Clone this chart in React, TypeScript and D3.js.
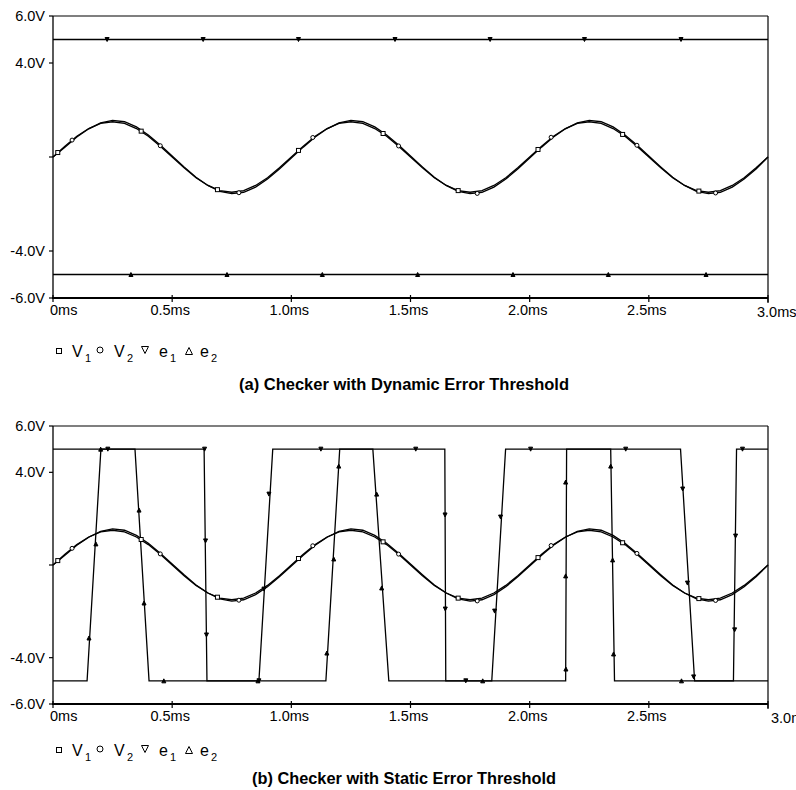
import React from 'react';
import * as d3 from 'd3';

// axis ticks
const X_TICKS = [0, 0.5, 1.0, 1.5, 2.0, 2.5, 3.0];
const X_TICK_LABELS = ['0ms', '0.5ms', '1.0ms', '1.5ms', '2.0ms', '2.5ms', '3.0ms'];
const Y_TICKS = [6, 4, 0, -4, -6];
const Y_TICK_LABELS = ['6.0V', '4.0V', '', '-4.0V', '-6.0V'];

// sine traces, one sample every 0.05 ms from 0 to 3.0 ms
const SAMPLE_STEP = 0.05;
const V1 = [
  0, 0.46, 0.88, 1.21, 1.43, 1.5, 1.43, 1.21, 0.88, 0.46,
  0, -0.46, -0.88, -1.21, -1.43, -1.5, -1.43, -1.21, -0.88, -0.46,
  0, 0.46, 0.88, 1.21, 1.43, 1.5, 1.43, 1.21, 0.88, 0.46,
  0, -0.46, -0.88, -1.21, -1.43, -1.5, -1.43, -1.21, -0.88, -0.46,
  0, 0.46, 0.88, 1.21, 1.43, 1.5, 1.43, 1.21, 0.88, 0.46,
  0, -0.46, -0.88, -1.21, -1.43, -1.5, -1.43, -1.21, -0.88, -0.46,
  0,
];
const V2 = [
  0, 0.42, 0.85, 1.2, 1.45, 1.56, 1.5, 1.28, 0.94, 0.51,
  0.04, -0.42, -0.86, -1.21, -1.46, -1.56, -1.5, -1.28, -0.94, -0.51,
  -0.04, 0.42, 0.85, 1.2, 1.45, 1.56, 1.5, 1.28, 0.94, 0.51,
  0.04, -0.42, -0.86, -1.21, -1.46, -1.56, -1.5, -1.28, -0.94, -0.51,
  -0.04, 0.42, 0.85, 1.2, 1.45, 1.56, 1.5, 1.28, 0.94, 0.51,
  0.04, -0.42, -0.86, -1.21, -1.46, -1.56, -1.5, -1.28, -0.94, -0.51,
  0,
];

// marker positions [time ms, volts]
const V1_MARKERS = [[0.02, 0.19], [0.37, 1.1], [0.69, -1.39], [1.03, 0.28], [1.385, 1.0], [1.7, -1.43], [2.035, 0.32], [2.39, 0.96], [2.71, -1.45]];
const V2_MARKERS = [[0.08, 0.72], [0.45, 0.48], [0.78, -1.52], [1.09, 0.83], [1.45, 0.47], [1.78, -1.55], [2.09, 0.84], [2.45, 0.5], [2.78, -1.53]];

// (a) dynamic threshold: flat error outputs
const E1_DYN = [[0, 5], [3, 5]];
const E2_DYN = [[0, -5], [3, -5]];
const E1_DYN_MARKERS = [[0.227, 5], [0.63, 5], [1.03, 5], [1.435, 5], [1.834, 5], [2.23, 5], [2.635, 5]];
const E2_DYN_MARKERS = [[0.327, -5], [0.73, -5], [1.13, -5], [1.53, -5], [1.93, -5], [2.33, -5], [2.74, -5]];

// (b) static threshold: switching error outputs
const E1_STAT = [[0, 5], [0.634, 5], [0.646, -5], [0.864, -5], [0.922, 5], [1.644, 5], [1.648, -5], [1.841, -5], [1.899, 5], [2.633, 5], [2.692, -5], [2.855, -5], [2.868, 5], [3.0, 5]];
const E2_STAT = [[0, -5], [0.143, -5], [0.201, 5], [0.344, 5], [0.403, -5], [1.145, -5], [1.203, 5], [1.342, 5], [1.409, -5], [2.151, -5], [2.155, 5], [2.34, 5], [2.356, -5], [3.0, -5]];
const E1_STAT_MARKERS = [[0.23, 5], [0.636, 5], [0.64, 1.04], [0.644, -3.02], [0.864, -5], [0.885, -1.04], [0.906, 3.06], [1.124, 5], [1.522, 5], [1.645, 2.16], [1.646, -1.9], [1.732, -5], [1.853, -1.99], [1.878, 2.07], [2.004, 5], [2.403, 5], [2.642, 3.28], [2.662, -0.78], [2.688, -4.83], [2.86, -2.8], [2.864, 1.25], [2.893, 5]];
const E2_STAT_MARKERS = [[0.151, -3.15], [0.18, 0.91], [0.2, 5], [0.361, 2.37], [0.382, -1.64], [0.465, -5], [0.86, -5], [1.149, -3.8], [1.178, 0.26], [1.199, 4.27], [1.358, 3.06], [1.379, -0.99], [1.803, -5], [2.151, 3.58], [2.151, -0.47], [2.152, -4.49], [2.34, 4.27], [2.348, 0.22], [2.352, -3.84], [2.637, -5]];

const FONT = '"Liberation Sans", Arial, Helvetica, sans-serif';
const X0 = 53;
const X1 = 768;

const Marker = ({ kind, x, y, size = 4, legend = false }) => {
  const h = size / 2;
  if (kind === 'square') {
    return <rect x={x - h} y={y - h} width={size} height={size} fill="#fff" stroke="#000" strokeWidth={1} />;
  }
  if (kind === 'circle') {
    return <circle cx={x} cy={y} r={h} fill="#fff" stroke="#000" strokeWidth={1} />;
  }
  const fill = legend ? '#fff' : '#000';
  const pts = kind === 'down'
    ? `${x - h},${y - h} ${x + h},${y - h} ${x},${y + h}`
    : `${x - h},${y + h} ${x + h},${y + h} ${x},${y - h}`;
  return <polygon points={pts} fill={fill} stroke="#000" strokeWidth={1} strokeLinejoin="miter" />;
};

const Panel = ({ top, bottom, e1, e2, e1Markers, e2Markers, lastLabelX, legendY, title, titleY, titleWidth }) => {
  const x = d3.scaleLinear().domain([0, 3]).range([X0, X1]);
  const y = d3.scaleLinear().domain([-6, 6]).range([bottom, top]);

  const sineLine = d3.line().x((d, i) => x(i * SAMPLE_STEP)).y(d => y(d));
  const stepLine = d3.line().x(d => x(d[0])).y(d => y(d[1]));

  return (
    <g>
      {/* frame */}
      <line x1={X0} x2={X1} y1={top} y2={top} stroke="#000" strokeWidth={1.2} />
      <line x1={X1} x2={X1} y1={top} y2={bottom + 5} stroke="#000" strokeWidth={1.2} />
      <line x1={X0} x2={X0} y1={top} y2={bottom} stroke="#000" strokeWidth={1.3} />
      <line x1={X0 - 1} x2={X1} y1={bottom} y2={bottom} stroke="#000" strokeWidth={2} />

      {/* y ticks */}
      {Y_TICKS.map((v, i) => (
        <g key={'y' + i}>
          <line x1={X0 - 4} x2={X0} y1={y(v)} y2={y(v)} stroke="#000" strokeWidth={1.2} />
          <text x={X0 - 8} y={y(v) + 5} textAnchor="end" fontSize={14.5} fontFamily={FONT}>{Y_TICK_LABELS[i]}</text>
        </g>
      ))}

      {/* x ticks */}
      {X_TICKS.map((v, i) => {
        const last = i === X_TICKS.length - 1;
        const first = i === 0;
        const lx = first ? x(v) - 3 : last ? lastLabelX : x(v) - 2;
        return (
          <g key={'x' + i}>
            <line x1={x(v)} x2={x(v)} y1={bottom - 3} y2={bottom + 4} stroke="#000" strokeWidth={1.2} />
            <text x={lx} y={bottom + (last ? 19 : 17)} textAnchor={first || last ? 'start' : 'middle'} fontSize={14.5} fontFamily={FONT}>{X_TICK_LABELS[i]}</text>
          </g>
        );
      })}

      {/* traces */}
      <path d={sineLine(V1)} fill="none" stroke="#000" strokeWidth={1.3} />
      <path d={sineLine(V2)} fill="none" stroke="#000" strokeWidth={1.3} />
      <path d={stepLine(e1)} fill="none" stroke="#000" strokeWidth={1.3} />
      <path d={stepLine(e2)} fill="none" stroke="#000" strokeWidth={1.3} />

      {/* markers */}
      {V1_MARKERS.map((d, i) => <Marker key={'m1' + i} kind="square" x={x(d[0])} y={y(d[1])} />)}
      {V2_MARKERS.map((d, i) => <Marker key={'m2' + i} kind="circle" x={x(d[0])} y={y(d[1])} />)}
      {e1Markers.map((d, i) => <Marker key={'m3' + i} kind="down" x={x(d[0])} y={y(d[1])} />)}
      {e2Markers.map((d, i) => <Marker key={'m4' + i} kind="up" x={x(d[0])} y={y(d[1])} />)}

      {/* legend */}
      <g fontFamily={FONT}>
        <Marker kind="square" x={59} y={legendY - 6} size={5} legend />
        <text x={72} y={legendY} fontSize={16}>V</text>
        <text x={85} y={legendY + 5} fontSize={11}>1</text>
        <Marker kind="circle" x={100} y={legendY - 7} size={6} legend />
        <text x={114} y={legendY} fontSize={16}>V</text>
        <text x={127} y={legendY + 5} fontSize={11}>2</text>
        <Marker kind="down" x={145} y={legendY - 7} size={7} legend />
        <text x={159} y={legendY} fontSize={16}>e</text>
        <text x={170} y={legendY + 5} fontSize={11}>1</text>
        <Marker kind="up" x={189} y={legendY - 6} size={7} legend />
        <text x={200} y={legendY} fontSize={16}>e</text>
        <text x={211} y={legendY + 5} fontSize={11}>2</text>
      </g>

      <text
        x={404}
        y={titleY}
        textAnchor="middle"
        fontSize={16}
        fontWeight="bold"
        fontFamily={'"Liberation Sans Narrow", "Arial Narrow", ' + FONT}
        textLength={titleWidth}
        lengthAdjust="spacingAndGlyphs"
      >
        {title}
      </text>
    </g>
  );
};

export default function App() {
  return (
    <svg width={796} height={790} style={{ position: 'absolute', left: 0, top: 0, background: '#fff' }}>
      <rect width={796} height={790} fill="#fff" />
      <Panel
        top={16}
        bottom={298}
        e1={E1_DYN}
        e2={E2_DYN}
        e1Markers={E1_DYN_MARKERS}
        e2Markers={E2_DYN_MARKERS}
        lastLabelX={757}
        legendY={357}
        title="(a) Checker with Dynamic Error Threshold"
        titleY={390}
        titleWidth={330}
      />
      <Panel
        top={426}
        bottom={704}
        e1={E1_STAT}
        e2={E2_STAT}
        e1Markers={E1_STAT_MARKERS}
        e2Markers={E2_STAT_MARKERS}
        lastLabelX={771}
        legendY={756}
        title="(b) Checker with Static Error Threshold"
        titleY={784}
        titleWidth={304}
      />
    </svg>
  );
}
